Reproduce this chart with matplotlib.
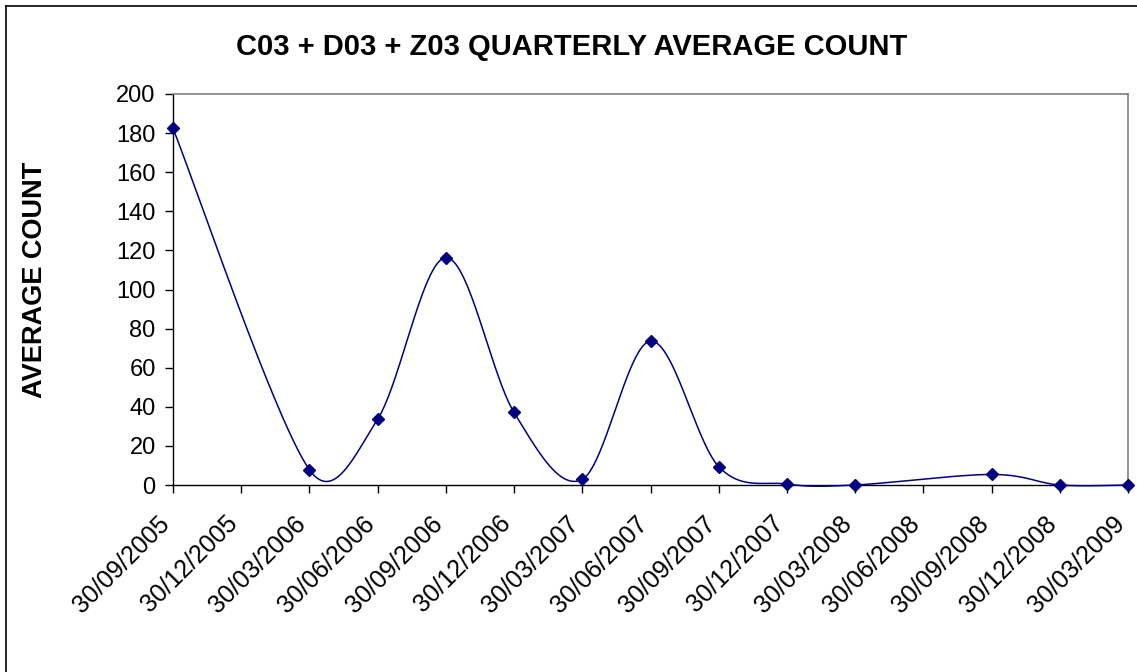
import numpy as np
import matplotlib
matplotlib.use("Agg")
import matplotlib.pyplot as plt
import matplotlib.transforms as mtransforms
from matplotlib.lines import Line2D

plt.rcParams['font.family'] = ['Liberation Sans', 'DejaVu Sans']

# ---- data ----
tick_labels = ["30/09/2005", "30/12/2005", "30/03/2006", "30/06/2006", "30/09/2006",
               "30/12/2006", "30/03/2007", "30/06/2007", "30/09/2007", "30/12/2007",
               "30/03/2008", "30/06/2008", "30/09/2008", "30/12/2008", "30/03/2009"]
point_dates = ["30/09/2005", "30/03/2006", "30/06/2006", "30/09/2006", "30/12/2006",
               "30/03/2007", "30/06/2007", "30/09/2007", "30/12/2007", "30/03/2008",
               "30/09/2008", "30/12/2008", "30/03/2009"]
avg_count = [182.4, 7.8, 33.7, 116.3, 37.1, 2.9, 73.6, 9.4, 0.5, 0.0, 5.4, 0.0, 0.0]
y_ticks = [0, 20, 40, 60, 80, 100, 120, 140, 160, 180, 200]


def month_index(d):
    dd, mm, yy = d.split("/")
    return (int(yy) - 2005) * 12 + int(mm) - 9


tick_x = np.array([month_index(d) for d in tick_labels], dtype=float)
px = np.array([month_index(d) for d in point_dates], dtype=float)
py = np.array(avg_count, dtype=float)


def smooth_curve(P, n=80):
    # spreadsheet-style smoothed line: Bezier segments with limited control arms
    out = []
    m = len(P)
    for i in range(m - 1):
        p0 = P[i - 1] if i > 0 else P[i]
        p1 = P[i]
        p2 = P[i + 1]
        p3 = P[i + 2] if i + 2 < m else P[i + 1]
        d02 = np.hypot(*(p2 - p0))
        d12 = np.hypot(*(p2 - p1))
        d13 = np.hypot(*(p3 - p1))
        f = 1 / 6.0
        g = 1 / 6.0
        if d02 / 6.0 >= d12 / 2.0 and d02 > 0:
            f = d12 / (2.0 * d02)
        if d13 / 6.0 >= d12 / 2.0 and d13 > 0:
            g = d12 / (2.0 * d13)
        c1 = p1 + (p2 - p0) * f
        c2 = p2 - (p3 - p1) * g
        t = np.linspace(0, 1, n)[:, None]
        seg = ((1 - t) ** 3) * p1 + 3 * ((1 - t) ** 2) * t * c1 + 3 * (1 - t) * t ** 2 * c2 + t ** 3 * p2
        out.append(seg if i == 0 else seg[1:])
    return np.vstack(out)


W, H = 1137, 672
fig = plt.figure(figsize=(W / 100, H / 100), dpi=100)
ax = fig.add_axes([173 / W, 1 - 485 / H, (1128 - 173) / W, (485 - 94) / H])
ax.set_xlim(tick_x[0], tick_x[-1])
ax.set_ylim(0, 200)

# smoothing computed in display (pixel) space, then mapped back to data
pix = ax.transData.transform(np.column_stack([px, py]))
curve_pix = smooth_curve(pix)
curve = ax.transData.inverted().transform(curve_pix)

ax.plot(curve[:, 0], curve[:, 1], color="#000080", lw=1.1, zorder=3, clip_on=False)
ax.plot(px, py, linestyle="none", marker="D", markersize=6.5, color="#000080",
        zorder=4, clip_on=False)

ax.set_yticks(y_ticks)
ax.set_yticklabels([str(v) for v in y_ticks], fontsize=17)
ax.set_xticks(tick_x)
ax.set_xticklabels(tick_labels, fontsize=18, rotation=45, ha="right", va="center",
                   rotation_mode="anchor")
ax.tick_params(axis="x", direction="out", length=6, width=1, color="black", pad=19)
ax.tick_params(axis="y", direction="out", length=6, width=1, color="black", pad=6.5)

shift = mtransforms.ScaledTranslation(-7 / 100, 0, fig.dpi_scale_trans)
for lab in ax.get_xticklabels():
    lab.set_transform(lab.get_transform() + shift)

for s in ["top", "right"]:
    ax.spines[s].set_color("#808080")
    ax.spines[s].set_linewidth(1.2)
for s in ["left", "bottom"]:
    ax.spines[s].set_color("black")
    ax.spines[s].set_linewidth(1.0)

fig.text(0.503, 1 - 47 / H, "C03 + D03 + Z03 QUARTERLY AVERAGE COUNT", ha="center",
         va="center", fontsize=21, fontweight="bold")
fig.text(35 / W, 1 - 280 / H, "AVERAGE COUNT", rotation=90, ha="center", va="center",
         fontsize=19.5, fontweight="bold")

# outer chart border (left and top visible)
bx, by = 6 / W, 1 - 6 / H
fig.add_artist(Line2D([bx, bx], [0, by], color="black", lw=1.2, transform=fig.transFigure))
fig.add_artist(Line2D([bx, 1], [by, by], color="black", lw=1.2, transform=fig.transFigure))

fig.savefig("out.png", dpi=100)
